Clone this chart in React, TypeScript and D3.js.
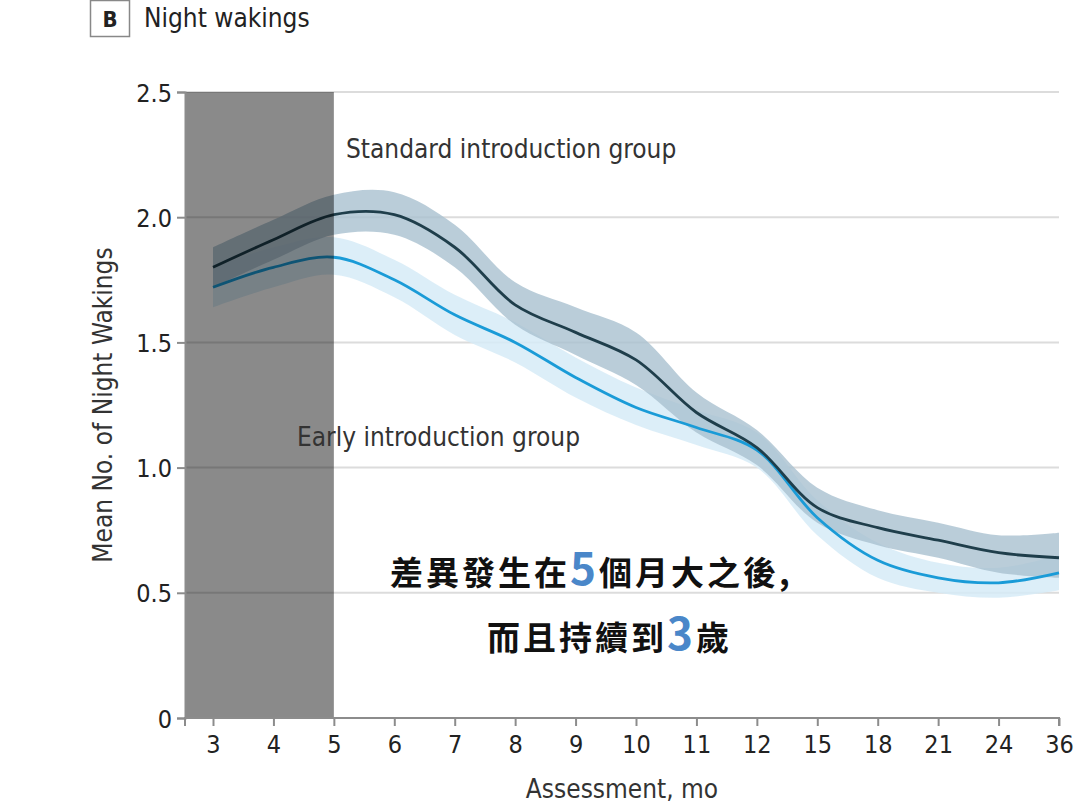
import React, { useEffect, useRef } from "react"
import * as d3 from "d3"

// assessment months (categorical, evenly spaced)
const months = ["3", "4", "5", "6", "7", "8", "9", "10", "11", "12", "15", "18", "21", "24", "36"]
const yTicks = [0, 0.5, 1.0, 1.5, 2.0, 2.5]

// standard introduction group
const standardMean = [1.8, 1.91, 2.01, 2.01, 1.88, 1.65, 1.54, 1.43, 1.22, 1.08, 0.84, 0.76, 0.71, 0.66, 0.64]
const standardLow = [1.72, 1.83, 1.93, 1.93, 1.8, 1.57, 1.45, 1.33, 1.14, 1.01, 0.78, 0.69, 0.64, 0.58, 0.56]
const standardHigh = [1.88, 1.99, 2.09, 2.1, 1.97, 1.74, 1.64, 1.54, 1.3, 1.15, 0.92, 0.83, 0.78, 0.73, 0.74]

// early introduction group
const earlyMean = [1.72, 1.8, 1.84, 1.75, 1.61, 1.5, 1.36, 1.24, 1.16, 1.07, 0.8, 0.63, 0.56, 0.54, 0.58]
const earlyLow = [1.64, 1.72, 1.77, 1.68, 1.53, 1.42, 1.28, 1.17, 1.09, 1.0, 0.73, 0.56, 0.5, 0.48, 0.51]
const earlyHigh = [1.8, 1.88, 1.92, 1.83, 1.69, 1.58, 1.44, 1.32, 1.23, 1.14, 0.87, 0.7, 0.62, 0.6, 0.65]

const width = 1080
const height = 810
const font = "'DejaVu Sans Condensed', 'Liberation Sans Narrow', 'DejaVu Sans', sans-serif"

const App = () => {
  const ref = useRef<SVGSVGElement>(null)

  useEffect(() => {
    const svg = d3.select(ref.current)
    svg.selectAll("*").remove()

    const left = 185
    const right = 1059
    const top = 92
    const bottom = 718

    const x = d3.scalePoint().domain(months).range([213, right])
    const y = d3.scaleLinear().domain([0, 2.5]).range([bottom, top])

    // grid
    svg
      .append("g")
      .selectAll("line")
      .data(yTicks.filter((d) => d > 0))
      .join("line")
      .attr("x1", left)
      .attr("x2", right)
      .attr("y1", (d) => y(d))
      .attr("y2", (d) => y(d))
      .attr("stroke", "#dcdcdc")
      .attr("stroke-width", 2)

    const area = (lo: number[], hi: number[]) =>
      d3
        .area<string>()
        .x((d) => x(d)!)
        .y0((d, i) => y(lo[i]))
        .y1((d, i) => y(hi[i]))
        .curve(d3.curveCatmullRom.alpha(0.5))
    const line = (vals: number[]) =>
      d3
        .line<string>()
        .x((d) => x(d)!)
        .y((d, i) => y(vals[i]))
        .curve(d3.curveCatmullRom.alpha(0.5))

    svg.append("path").attr("d", area(earlyLow, earlyHigh)(months)).attr("fill", "#d6ebf7").attr("opacity", 0.85)
    svg.append("path").attr("d", area(standardLow, standardHigh)(months)).attr("fill", "#a9c1cf").attr("opacity", 0.8)
    svg
      .append("path")
      .attr("d", line(earlyMean)(months))
      .attr("fill", "none")
      .attr("stroke", "#1a9bd7")
      .attr("stroke-width", 2.8)
    svg
      .append("path")
      .attr("d", line(standardMean)(months))
      .attr("fill", "none")
      .attr("stroke", "#1f3e4b")
      .attr("stroke-width", 2.8)

    // shaded period (3-5 mo)
    svg
      .append("rect")
      .attr("x", left)
      .attr("y", top)
      .attr("width", x("5")! - left)
      .attr("height", bottom - top)
      .attr("fill", "#000")
      .attr("opacity", 0.46)

    // axes
    const yAxis = svg
      .append("g")
      .attr("transform", `translate(${left},0)`)
      .call(
        d3
          .axisLeft(y)
          .tickValues(yTicks)
          .tickSize(8)
          .tickPadding(5)
          .tickFormat((d) => (+d === 0 ? "0" : d3.format(".1f")(+d)))
      )
    const xAxis = svg
      .append("g")
      .attr("transform", `translate(0,${bottom})`)
      .call(d3.axisBottom(x).tickSize(8).tickPadding(9))
    xAxis.select(".domain").attr("d", `M${left},8V0H${right}V8`)
    for (const g of [yAxis, xAxis]) {
      g.select(".domain").attr("stroke", "#8c8c8c").attr("stroke-width", 2)
      g.selectAll(".tick line").attr("stroke", "#8c8c8c").attr("stroke-width", 2)
      g.selectAll(".tick text").attr("font-family", font).attr("font-size", 25).attr("fill", "#222")
    }
    yAxis.selectAll(".tick text").attr("dy", "0.36em")

    svg
      .append("text")
      .attr("x", 622)
      .attr("y", 798)
      .attr("text-anchor", "middle")
      .attr("font-family", font)
      .attr("font-size", 26)
      .attr("fill", "#333")
      .text("Assessment, mo")
    svg
      .append("text")
      .attr("transform", `translate(112,${(top + bottom) / 2}) rotate(-90)`)
      .attr("text-anchor", "middle")
      .attr("font-family", font)
      .attr("font-size", 26)
      .attr("fill", "#333")
      .text("Mean No. of Night Wakings")

    // group labels
    svg
      .append("text")
      .attr("x", 346)
      .attr("y", 158)
      .attr("font-family", font)
      .attr("font-size", 26)
      .attr("fill", "#333")
      .text("Standard introduction group")
    svg
      .append("text")
      .attr("x", 297)
      .attr("y", 446)
      .attr("font-family", font)
      .attr("font-size", 26)
      .attr("fill", "#333")
      .text("Early introduction group")

    // panel title
    svg
      .append("rect")
      .attr("x", 90.5)
      .attr("y", 0.5)
      .attr("width", 39)
      .attr("height", 36)
      .attr("fill", "#fff")
      .attr("stroke", "#888")
      .attr("stroke-width", 1.5)
    svg
      .append("text")
      .attr("x", 110)
      .attr("y", 27)
      .attr("text-anchor", "middle")
      .attr("font-family", font)
      .attr("font-weight", "bold")
      .attr("font-size", 22)
      .attr("fill", "#222")
      .text("B")
    svg
      .append("text")
      .attr("x", 144)
      .attr("y", 27)
      .attr("font-family", font)
      .attr("font-size", 26)
      .attr("fill", "#222")
      .text("Night wakings")

    // annotation
    const cjk = "'Noto Sans CJK TC', sans-serif"
    const t1 = svg
      .append("text")
      .attr("x", 390)
      .attr("y", 585)
      .attr("font-family", cjk)
      .attr("font-weight", "bold")
      .attr("font-size", 33)
      .attr("letter-spacing", 3)
      .attr("fill", "#111")
    t1.append("tspan").text("差異發生在")
    t1.append("tspan").attr("fill", "#4a87c9").attr("font-size", 44).text("5")
    t1.append("tspan").text("個月大之後,")
    const t2 = svg
      .append("text")
      .attr("x", 487)
      .attr("y", 650)
      .attr("font-family", cjk)
      .attr("font-weight", "bold")
      .attr("font-size", 33)
      .attr("letter-spacing", 3)
      .attr("fill", "#111")
    t2.append("tspan").text("而且持續到")
    t2.append("tspan").attr("fill", "#4a87c9").attr("font-size", 44).text("3")
    t2.append("tspan").text("歲")
  }, [])

  return (
    <svg
      ref={ref}
      width={width}
      height={height}
      style={{ position: "absolute", left: 0, top: 0, background: "#fff" }}
    />
  )
}

export default App
